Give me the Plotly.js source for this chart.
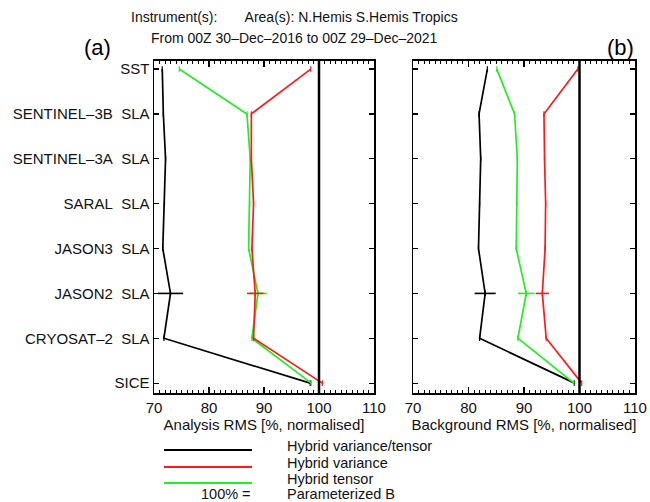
<!DOCTYPE html>
<html>
<head>
<meta charset="utf-8">
<script src="https://cdn.plot.ly/plotly-3.0.1.min.js"></script>
<style>html,body{margin:0;padding:0;background:#fff;}#chart{width:650px;height:502px;}</style>
</head>
<body>
<div id="chart"></div>
<script>
// Categories (top to bottom)
var categories = ["SST", "SENTINEL-3B SLA", "SENTINEL-3A SLA", "SARAL SLA", "JASON3 SLA", "JASON2 SLA", "CRYOSAT-2 SLA", "SICE"];
var tickLabels = ["SST", "SENTINEL\u20133B\u00a0\u00a0SLA", "SENTINEL\u20133A\u00a0\u00a0SLA", "SARAL\u00a0\u00a0SLA", "JASON3\u00a0\u00a0SLA", "JASON2\u00a0\u00a0SLA", "CRYOSAT\u20132\u00a0\u00a0SLA", "SICE"];

// Panel (a): Analysis RMS [% normalised]
var anaVarTensor = [71.5, 71.7, 72.1, 71.9, 71.6, 73.0, 71.8, 98.4];
var anaVariance  = [98.5, 87.7, 87.7, 88.1, 87.8, 88.4, 88.1, 100.6];
var anaTensor    = [74.6, 86.9, 87.5, 87.4, 87.2, 88.9, 87.8, 98.6];
var anaErrVarTensor = [0, 0, 0, 0, 0, 2.3, 0, 0];
var anaErrVariance  = [0, 0, 0, 0, 0, 1.5, 0, 0];
var anaErrTensor    = [0, 0, 0, 0, 0, 1.6, 0, 0];

// Panel (b): Background RMS [% normalised]
var bkgVarTensor = [83.4, 81.9, 82.2, 82.0, 81.8, 83.0, 82.0, 99.1];
var bkgVariance  = [99.7, 93.6, 93.7, 93.9, 93.8, 93.3, 94.0, 100.4];
var bkgTensor    = [85.1, 88.3, 88.8, 88.7, 88.6, 90.4, 88.9, 99.0];
var bkgErrVarTensor = [0, 0, 0, 0, 0, 1.9, 0, 0];
var bkgErrVariance  = [0, 0, 0, 0, 0, 1.2, 0, 0];
var bkgErrTensor    = [0, 0, 0, 0, 0, 1.5, 0, 0];

var xTickVals = [70, 80, 90, 100, 110];
var legendNames = ["Hybrid variance/tensor", "Hybrid variance", "Hybrid tensor"];
var colors = ["#000000", "#ff1a1a", "#22ee22"];

var yIdx = categories.map(function(c, i){ return i; });

function trace(xs, errs, color, xa, ya, name){
  return {
    x: xs, y: yIdx, xaxis: xa, yaxis: ya, name: name,
    type: 'scatter', mode: 'lines+markers',
    line: {color: color, width: 1.7},
    marker: {symbol: 'line-ns', size: 4, line: {color: color, width: 1.2}, color: color},
    error_x: {type: 'data', array: errs, visible: true, color: color, thickness: 1.6, width: 0},
    showlegend: false, hoverinfo: 'x+y'
  };
}

var data = [
  trace(anaVarTensor, anaErrVarTensor, colors[0], 'x', 'y', legendNames[0]),
  trace(anaTensor, anaErrTensor, colors[2], 'x', 'y', legendNames[2]),
  trace(anaVariance, anaErrVariance, colors[1], 'x', 'y', legendNames[1]),
  trace(bkgVarTensor, bkgErrVarTensor, colors[0], 'x2', 'y2', legendNames[0]),
  trace(bkgTensor, bkgErrTensor, colors[2], 'x2', 'y2', legendNames[2]),
  trace(bkgVariance, bkgErrVariance, colors[1], 'x2', 'y2', legendNames[1])
];

var font = "Liberation Sans, Arial, Helvetica, sans-serif";

function xax(domain, title){
  return {
    domain: domain, range: [70, 110], anchor: domain[0] < 0.5 ? 'y' : 'y2',
    tickvals: xTickVals, ticks: 'inside', ticklen: 6, tickwidth: 1.2, tickcolor: '#000',
    minor: {dtick: 1, ticks: 'inside', ticklen: 3, tickwidth: 1, tickcolor: '#000'},
    showline: true, linecolor: '#000', linewidth: 1.5, mirror: 'allticks',
    showgrid: false, zeroline: false,
    tickfont: {family: font, size: 15, color: '#111'},
    title: {text: title, font: {family: font, size: 15, color: '#111'}, standoff: 0}
  };
}
function yax(anchor, showLabels){
  return {
    domain: [0.2171, 0.8785], anchor: anchor, range: [7.22, -0.18],
    tickvals: yIdx, ticktext: tickLabels, showticklabels: showLabels,
    ticks: 'inside', ticklen: 5, tickwidth: 1.2, tickcolor: '#000',
    showline: true, linecolor: '#000', linewidth: 1.5, mirror: 'allticks',
    showgrid: false, zeroline: false,
    tickfont: {family: font, size: 15, color: '#111'}
  };
}

var shapes = [
  {type: 'line', xref: 'x', yref: 'y domain', x0: 100, x1: 100, y0: 0, y1: 1, line: {color: '#000', width: 2.5}},
  {type: 'line', xref: 'x2', yref: 'y2 domain', x0: 100, x1: 100, y0: 0, y1: 1, line: {color: '#000', width: 2.5}}
];
// legend sample lines
var legY = [450, 467, 483];
for (var i = 0; i < 3; i++) {
  shapes.push({type: 'line', xref: 'paper', yref: 'paper', x0: 164/650, x1: 252/650,
    y0: 1 - legY[i]/502, y1: 1 - legY[i]/502, line: {color: colors[i], width: 2}});
}

var legTextY = [446, 463, 479, 494];
var annotations = [
  {text: "Instrument(s):\u00a0\u00a0\u00a0\u00a0\u00a0\u00a0\u00a0Area(s): N.Hemis S.Hemis Tropics", xref: 'paper', yref: 'paper', x: 294/650, y: 1 - 17/502, xanchor: 'center', yanchor: 'middle', showarrow: false, font: {family: font, size: 14, color: '#111'}},
  {text: "From 00Z 30\u2013Dec\u20132016 to 00Z 29\u2013Dec\u20132021", xref: 'paper', yref: 'paper', x: 294/650, y: 1 - 38/502, xanchor: 'center', yanchor: 'middle', showarrow: false, font: {family: font, size: 14, color: '#111'}},
  {text: "(a)", xref: 'paper', yref: 'paper', x: 97/650, y: 1 - 47/502, xanchor: 'center', yanchor: 'middle', showarrow: false, font: {family: font, size: 22, color: '#000'}},
  {text: "(b)", xref: 'paper', yref: 'paper', x: 620/650, y: 1 - 47/502, xanchor: 'center', yanchor: 'middle', showarrow: false, font: {family: font, size: 22, color: '#000'}}
];
for (var j = 0; j < 3; j++) {
  annotations.push({text: legendNames[j], xref: 'paper', yref: 'paper', x: 285/650, y: 1 - legTextY[j]/502, xanchor: 'left', yanchor: 'middle', showarrow: false, font: {family: font, size: 14.5, color: '#111'}});
}
annotations.push({text: "100% =", xref: 'paper', yref: 'paper', x: 253/650, y: 1 - legTextY[3]/502, xanchor: 'right', yanchor: 'middle', showarrow: false, font: {family: font, size: 14.5, color: '#111'}});
annotations.push({text: "Parameterized B", xref: 'paper', yref: 'paper', x: 285/650, y: 1 - legTextY[3]/502, xanchor: 'left', yanchor: 'middle', showarrow: false, font: {family: font, size: 14.5, color: '#111'}});

var layout = {
  width: 650, height: 502,
  margin: {l: 0, r: 0, t: 0, b: 0},
  paper_bgcolor: '#fff', plot_bgcolor: '#fff',
  showlegend: false,
  xaxis: xax([154/650, 374/650], "Analysis RMS [%, normalised]"),
  xaxis2: xax([413/650, 635/650], "Background RMS [%, normalised]"),
  yaxis: yax('x', true),
  yaxis2: yax('x2', false),
  shapes: shapes,
  annotations: annotations,
  font: {family: font}
};

Plotly.newPlot('chart', data, layout, {displayModeBar: false, staticPlot: true});
</script>
</body>
</html>
